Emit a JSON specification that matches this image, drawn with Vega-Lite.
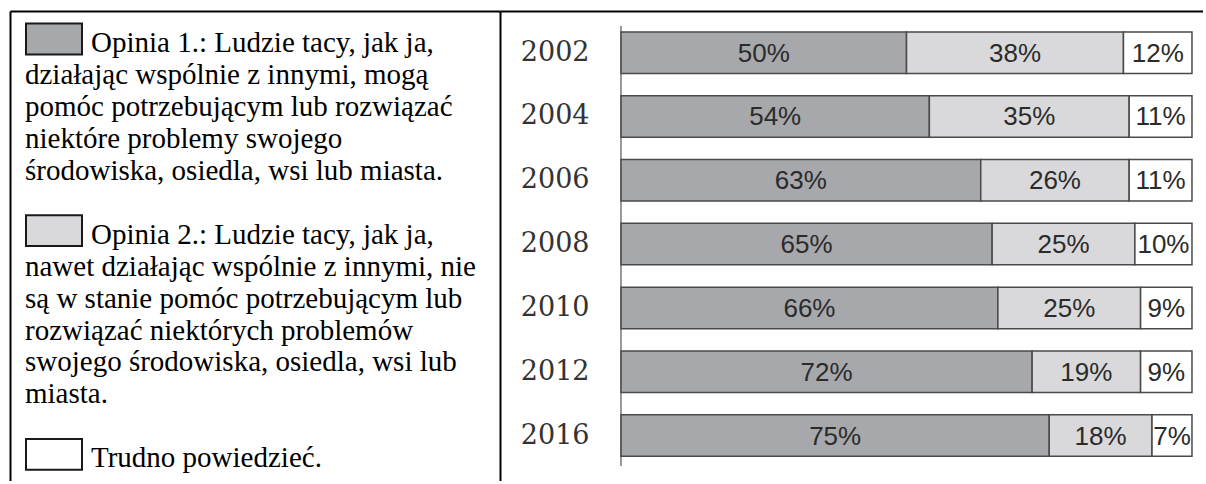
{
  "$schema": "https://vega.github.io/schema/vega-lite/v6.json",
  "padding": {"left": 10, "top": 11, "right": 0, "bottom": 0},
  "background": "white",
  "spacing": 0,
  "bounds": "flush",
  "config": {
    "view": {"stroke": null},
    "axis": {"grid": false, "domainColor": "#000000", "domainWidth": 2, "ticks": false, "title": null}
  },
  "datasets": {
    "linie": [
      {"opinia": "Opinia 1", "wiersz": 1, "tekst": "Opinia 1.: Ludzie tacy, jak ja,"},
      {"opinia": "Opinia 1", "wiersz": 2, "tekst": "działając wspólnie z innymi, mogą"},
      {"opinia": "Opinia 1", "wiersz": 3, "tekst": "pomóc potrzebującym lub rozwiązać"},
      {"opinia": "Opinia 1", "wiersz": 4, "tekst": "niektóre problemy swojego"},
      {"opinia": "Opinia 1", "wiersz": 5, "tekst": "środowiska, osiedla, wsi lub miasta."},
      {"opinia": "Opinia 2", "wiersz": 7, "tekst": "Opinia 2.: Ludzie tacy, jak ja,"},
      {"opinia": "Opinia 2", "wiersz": 8, "tekst": "nawet działając wspólnie z innymi, nie"},
      {"opinia": "Opinia 2", "wiersz": 9, "tekst": "są w stanie pomóc potrzebującym lub"},
      {"opinia": "Opinia 2", "wiersz": 10, "tekst": "rozwiązać niektórych problemów"},
      {"opinia": "Opinia 2", "wiersz": 11, "tekst": "swojego środowiska, osiedla, wsi lub"},
      {"opinia": "Opinia 2", "wiersz": 12, "tekst": "miasta."},
      {"opinia": "Trudno powiedzieć", "wiersz": 14, "tekst": "Trudno powiedzieć."}
    ],
    "wyniki": [
      {"rok": "2002", "opinia": "Opinia 1", "udzial": 0.50},
      {"rok": "2002", "opinia": "Opinia 2", "udzial": 0.38},
      {"rok": "2002", "opinia": "Trudno powiedzieć", "udzial": 0.12},
      {"rok": "2004", "opinia": "Opinia 1", "udzial": 0.54},
      {"rok": "2004", "opinia": "Opinia 2", "udzial": 0.35},
      {"rok": "2004", "opinia": "Trudno powiedzieć", "udzial": 0.11},
      {"rok": "2006", "opinia": "Opinia 1", "udzial": 0.63},
      {"rok": "2006", "opinia": "Opinia 2", "udzial": 0.26},
      {"rok": "2006", "opinia": "Trudno powiedzieć", "udzial": 0.11},
      {"rok": "2008", "opinia": "Opinia 1", "udzial": 0.65},
      {"rok": "2008", "opinia": "Opinia 2", "udzial": 0.25},
      {"rok": "2008", "opinia": "Trudno powiedzieć", "udzial": 0.10},
      {"rok": "2010", "opinia": "Opinia 1", "udzial": 0.66},
      {"rok": "2010", "opinia": "Opinia 2", "udzial": 0.25},
      {"rok": "2010", "opinia": "Trudno powiedzieć", "udzial": 0.09},
      {"rok": "2012", "opinia": "Opinia 1", "udzial": 0.72},
      {"rok": "2012", "opinia": "Opinia 2", "udzial": 0.19},
      {"rok": "2012", "opinia": "Trudno powiedzieć", "udzial": 0.09},
      {"rok": "2016", "opinia": "Opinia 1", "udzial": 0.75},
      {"rok": "2016", "opinia": "Opinia 2", "udzial": 0.18},
      {"rok": "2016", "opinia": "Trudno powiedzieć", "udzial": 0.07}
    ]
  },
  "hconcat": [
    {
      "width": 490,
      "height": 470,
      "data": {"name": "linie"},
      "transform": [
        {"window": [{"op": "row_number", "as": "nr"}], "groupby": ["opinia"], "sort": [{"field": "wiersz"}]}
      ],
      "encoding": {
        "x": {"datum": 0, "type": "quantitative", "scale": {"domain": [0, 1]}, "axis": {"orient": "top", "labels": false, "domain": true}},
        "y": {
          "field": "wiersz", "type": "ordinal",
          "scale": {"type": "point", "domain": [1, 2, 3, 4, 5, 6, 7, 8, 9, 10, 11, 12, 13, 14], "padding": 0.855, "align": 0.75},
          "axis": {"orient": "left", "labels": false, "domain": true}
        }
      },
      "layer": [
        {
          "transform": [{"filter": "datum.nr == 1"}],
          "mark": {"type": "point", "shape": "M-1,-0.55H1V0.55H-1Z", "size": 3136, "filled": true, "opacity": 1, "stroke": "#1a1a1a", "strokeWidth": 2, "xOffset": 44, "yOffset": -13},
          "encoding": {"color": {"field": "opinia", "type": "nominal", "legend": null}}
        },
        {
          "transform": [{"filter": "datum.nr == 1"}],
          "mark": {"type": "text", "align": "left", "baseline": "alphabetic", "dx": 81, "font": "Liberation Serif", "fontSize": 29, "color": "#000000"},
          "encoding": {"text": {"field": "tekst"}}
        },
        {
          "transform": [{"filter": "datum.nr > 1"}],
          "mark": {"type": "text", "align": "left", "baseline": "alphabetic", "dx": 15, "font": "Liberation Serif", "fontSize": 29, "color": "#000000"},
          "encoding": {"text": {"field": "tekst"}}
        }
      ]
    },
    {
      "width": 703,
      "height": 470,
      "data": {"name": "wyniki"},
      "encoding": {
        "y": {
          "field": "rok", "type": "nominal",
          "scale": {"paddingInner": 0.35, "paddingOuter": 0.358, "align": 0.458},
          "axis": {"orient": "left", "domain": true, "labelPadding": -89, "labelFont": "DejaVu Serif", "labelFontSize": 27, "labelColor": "#333333", "labelAlign": "right", "labelBaseline": "middle"}
        }
      },
      "layer": [
        {
          "mark": {"type": "rule", "color": "#9a9a9a", "strokeWidth": 1.5, "yOffset": -26, "y2Offset": 30},
          "encoding": {"x": {"datum": 0, "type": "quantitative"}, "y": {"datum": "2002"}, "y2": {"datum": "2016"}}
        },
        {
          "mark": {"type": "bar", "stroke": "#4a4a4a", "strokeWidth": 1.5},
          "encoding": {
            "x": {"field": "udzial", "type": "quantitative", "stack": "zero", "scale": {"domain": [-0.212, 1.0193], "nice": false, "zero": false}, "axis": {"orient": "top", "labels": false, "domain": true}},
            "color": {"field": "opinia", "type": "nominal", "scale": {"domain": ["Opinia 1", "Opinia 2", "Trudno powiedzieć"], "range": ["#a7a8ab", "#d9d9db", "#ffffff"]}, "legend": null},
            "order": {"field": "opinia"}
          }
        },
        {
          "mark": {"type": "text", "font": "Liberation Sans", "fontSize": 26, "color": "#2b2b2b", "baseline": "middle", "dy": 1},
          "encoding": {
            "x": {"field": "udzial", "type": "quantitative", "stack": "zero", "bandPosition": 0.5},
            "order": {"field": "opinia"},
            "text": {"field": "udzial", "type": "quantitative", "format": ".0%"}
          }
        }
      ]
    }
  ]
}
